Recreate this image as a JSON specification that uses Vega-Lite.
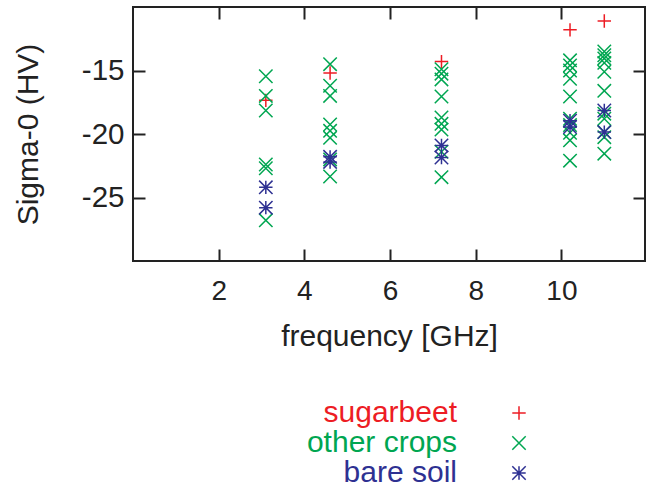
{
  "$schema": "https://vega.github.io/schema/vega-lite/v6.json",
  "width": 512,
  "height": 254,
  "autosize": {"type": "none"},
  "padding": {"left": 133, "top": 7, "right": 4, "bottom": 227},
  "background": "white",
  "config": {
    "view": {"stroke": "#222", "strokeWidth": 2},
    "font": "Liberation Sans",
    "axis": {"domain": false, "grid": false, "tickColor": "#222", "tickWidth": 2, "labelColor": "#222", "titleColor": "#222", "labelFont": "Liberation Sans", "titleFont": "Liberation Sans", "titleFontWeight": "normal"}
  },
  "data": {"values": [
    {"type": "sugarbeet", "freq": 3.1, "sigma": -17.35},
    {"type": "sugarbeet", "freq": 4.6, "sigma": -15.2},
    {"type": "sugarbeet", "freq": 7.2, "sigma": -14.3},
    {"type": "sugarbeet", "freq": 10.2, "sigma": -11.8},
    {"type": "sugarbeet", "freq": 11.0, "sigma": -11.1},
    {"type": "other crops", "freq": 3.1, "sigma": -15.45},
    {"type": "other crops", "freq": 3.1, "sigma": -17.0},
    {"type": "other crops", "freq": 3.1, "sigma": -18.15},
    {"type": "other crops", "freq": 3.1, "sigma": -22.4},
    {"type": "other crops", "freq": 3.1, "sigma": -22.7},
    {"type": "other crops", "freq": 3.1, "sigma": -26.8},
    {"type": "other crops", "freq": 4.6, "sigma": -14.5},
    {"type": "other crops", "freq": 4.6, "sigma": -16.2},
    {"type": "other crops", "freq": 4.6, "sigma": -17.0},
    {"type": "other crops", "freq": 4.6, "sigma": -19.25},
    {"type": "other crops", "freq": 4.6, "sigma": -19.75},
    {"type": "other crops", "freq": 4.6, "sigma": -20.3},
    {"type": "other crops", "freq": 4.6, "sigma": -22.0},
    {"type": "other crops", "freq": 4.6, "sigma": -23.35},
    {"type": "other crops", "freq": 7.2, "sigma": -14.9},
    {"type": "other crops", "freq": 7.2, "sigma": -15.25},
    {"type": "other crops", "freq": 7.2, "sigma": -15.7},
    {"type": "other crops", "freq": 7.2, "sigma": -17.05},
    {"type": "other crops", "freq": 7.2, "sigma": -18.7},
    {"type": "other crops", "freq": 7.2, "sigma": -19.2},
    {"type": "other crops", "freq": 7.2, "sigma": -19.65},
    {"type": "other crops", "freq": 7.2, "sigma": -21.4},
    {"type": "other crops", "freq": 7.2, "sigma": -23.4},
    {"type": "other crops", "freq": 10.2, "sigma": -14.2},
    {"type": "other crops", "freq": 10.2, "sigma": -14.6},
    {"type": "other crops", "freq": 10.2, "sigma": -15.0},
    {"type": "other crops", "freq": 10.2, "sigma": -15.65},
    {"type": "other crops", "freq": 10.2, "sigma": -17.05},
    {"type": "other crops", "freq": 10.2, "sigma": -18.8},
    {"type": "other crops", "freq": 10.2, "sigma": -19.3},
    {"type": "other crops", "freq": 10.2, "sigma": -19.9},
    {"type": "other crops", "freq": 10.2, "sigma": -20.5},
    {"type": "other crops", "freq": 10.2, "sigma": -22.1},
    {"type": "other crops", "freq": 11.0, "sigma": -13.5},
    {"type": "other crops", "freq": 11.0, "sigma": -13.8},
    {"type": "other crops", "freq": 11.0, "sigma": -14.05},
    {"type": "other crops", "freq": 11.0, "sigma": -14.4},
    {"type": "other crops", "freq": 11.0, "sigma": -15.1},
    {"type": "other crops", "freq": 11.0, "sigma": -16.6},
    {"type": "other crops", "freq": 11.0, "sigma": -18.4},
    {"type": "other crops", "freq": 11.0, "sigma": -18.8},
    {"type": "other crops", "freq": 11.0, "sigma": -19.85},
    {"type": "other crops", "freq": 11.0, "sigma": -20.25},
    {"type": "other crops", "freq": 11.0, "sigma": -21.55},
    {"type": "bare soil", "freq": 3.1, "sigma": -24.2},
    {"type": "bare soil", "freq": 3.1, "sigma": -25.8},
    {"type": "bare soil", "freq": 4.6, "sigma": -21.8},
    {"type": "bare soil", "freq": 4.6, "sigma": -22.2},
    {"type": "bare soil", "freq": 7.2, "sigma": -20.9},
    {"type": "bare soil", "freq": 7.2, "sigma": -21.85},
    {"type": "bare soil", "freq": 10.2, "sigma": -18.95},
    {"type": "bare soil", "freq": 10.2, "sigma": -19.45},
    {"type": "bare soil", "freq": 11.0, "sigma": -18.15},
    {"type": "bare soil", "freq": 11.0, "sigma": -19.85}
  ]},
  "layer": [
    {
      "mark": {"type": "point", "filled": false, "strokeWidth": 1.5, "opacity": 1, "size": 180},
      "encoding": {
        "x": {"field": "freq", "type": "quantitative", "scale": {"domain": [0, 11.95], "nice": false, "zero": false},
          "axis": {"orient": "bottom", "values": [2, 4, 6, 8, 10], "tickSize": -12, "labelFontSize": 28, "labelPadding": 28, "title": "frequency [GHz]", "titleFontSize": 30, "titlePadding": 16}},
        "y": {"field": "sigma", "type": "quantitative", "scale": {"domain": [-30, -10], "nice": false, "zero": false},
          "axis": {"orient": "left", "values": [-15, -20, -25], "labelExpr": "toString(datum.value)", "tickSize": -12, "labelFontSize": 29.5, "labelPadding": 21, "title": "Sigma-0 (HV)", "titleFontSize": 30, "titlePadding": 38}},
        "stroke": {"field": "type", "type": "nominal",
          "scale": {"domain": ["sugarbeet", "other crops", "bare soil"], "range": ["#ED1C24", "#00A651", "#2E3192"]},
          "legend": {"orient": "none", "legendX": 371, "legendY": 391, "title": null, "labelFontSize": 30, "labelAlign": "right", "labelOffset": -77, "rowPadding": -1, "symbolStrokeWidth": 1.5, "symbolSize": 180,
            "labelColor": {"expr": "datum.label == 'sugarbeet' ? '#ED1C24' : datum.label == 'other crops' ? '#00A651' : '#2E3192'"}}},
        "shape": {"field": "type", "type": "nominal",
          "scale": {"domain": ["sugarbeet", "other crops", "bare soil"], "range": ["M-1,0L1,0M0,-1L0,1", "M-1,-1L1,1M-1,1L1,-1", "M-1,0L1,0M0,-1L0,1M-1,-1L1,1M-1,1L1,-1"]},
          "legend": {"orient": "none", "legendX": 371, "legendY": 391, "title": null, "labelFontSize": 30, "labelAlign": "right", "labelOffset": -77, "rowPadding": -1, "symbolStrokeWidth": 1.5, "symbolSize": 180,
            "labelColor": {"expr": "datum.label == 'sugarbeet' ? '#ED1C24' : datum.label == 'other crops' ? '#00A651' : '#2E3192'"}}}
      }
    },
    {
      "mark": {"type": "point", "opacity": 0},
      "encoding": {
        "x": {"field": "freq", "type": "quantitative", "axis": {"orient": "top", "values": [2, 4, 6, 8, 10], "tickSize": -12, "labels": false, "title": null}},
        "y": {"field": "sigma", "type": "quantitative", "axis": {"orient": "right", "values": [-15, -20, -25], "tickSize": -12, "labels": false, "title": null}}
      }
    }
  ],
  "resolve": {"axis": {"x": "independent", "y": "independent"}}
}
